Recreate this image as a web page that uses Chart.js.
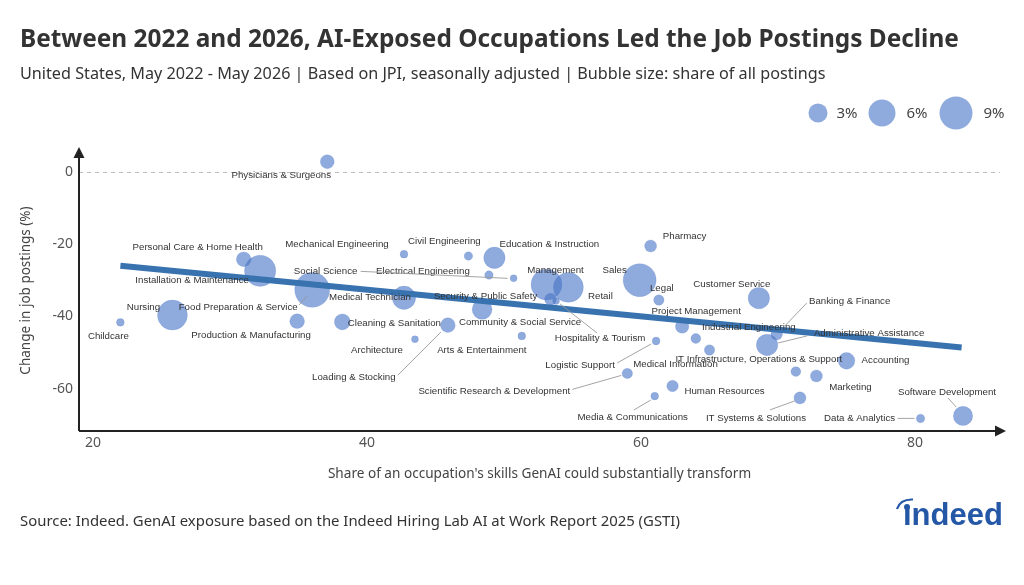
<!DOCTYPE html>
<html>
<head>
<meta charset="utf-8">
<title>AI-Exposed Occupations and Job Postings</title>
<script src="https://cdn.jsdelivr.net/npm/chart.js@4.4.1/dist/chart.umd.min.js"></script>
<style>
  html, body { margin: 0; padding: 0; background: #fff; }
  canvas { display: block; }
</style>
</head>
<body>
<canvas id="aiChart" width="1024" height="585"></canvas>
<script>
// occupations and their values
const occupations = [
  "Physicians & Surgeons", "Personal Care & Home Health", "Installation & Maintenance",
  "Food Preparation & Service", "Nursing", "Childcare", "Production & Manufacturing",
  "Cleaning & Sanitation", "Medical Technician", "Mechanical Engineering", "Architecture",
  "Loading & Stocking", "Civil Engineering", "Education & Instruction", "Electrical Engineering",
  "Social Science", "Community & Social Service", "Arts & Entertainment", "Management",
  "Retail", "Security & Public Safety", "Hospitality & Tourism", "Sales", "Pharmacy", "Legal",
  "Logistic Support", "Scientific Research & Development", "Project Management",
  "Industrial Engineering", "Medical Information", "Customer Service", "Banking & Finance",
  "Administrative Assistance", "Accounting", "IT Infrastructure, Operations & Support",
  "Marketing", "Human Resources", "Media & Communications", "IT Systems & Solutions",
  "Data & Analytics", "Software Development"
];
// share of skills GenAI could transform (%)
const exposure = [
  37.1, 31.0, 32.2, 36.0, 25.8, 22.0, 34.9, 38.2, 42.7, 42.7, 43.5,
  45.9, 47.4, 49.3, 48.9, 50.7, 48.4, 51.3, 53.1, 54.7, 53.4, 53.8,
  59.9, 60.7, 61.3, 61.1, 59.0, 63.0, 64.0, 65.0, 68.6, 69.9, 69.2,
  75.0, 71.3, 72.8, 62.3, 61.0, 71.6, 80.4, 83.5
];
// change in job postings (%)
const postingsChange = [
  3.0, -24.1, -27.3, -32.6, -39.6, -41.6, -41.3, -41.5, -34.8, -22.7, -46.3,
  -42.4, -23.2, -23.7, -28.5, -29.4, -38.0, -45.4, -31.1, -31.9, -35.2, -35.7,
  -29.9, -20.4, -35.4, -46.8, -55.8, -42.8, -46.1, -49.3, -34.9, -44.9, -47.9,
  -52.3, -55.3, -56.5, -59.3, -62.1, -62.6, -68.3, -67.6
];
// share of all postings (%)
const postingShare = [
  1.6, 1.8, 8.1, 10.1, 7.4, 0.5, 1.8, 2.1, 4.5, 0.5, 0.4,
  1.8, 0.6, 3.8, 0.6, 0.4, 3.3, 0.5, 7.9, 7.4, 1.2, 0.4,
  9.0, 1.2, 0.9, 0.5, 0.9, 1.5, 0.8, 0.9, 3.8, 1.1, 3.8,
  2.3, 0.8, 1.2, 1.1, 0.5, 1.2, 0.6, 3.1
];
const trendX = [22.0, 83.4];
const trendY = [-25.9, -48.6];
const xTicks = [20, 40, 60, 80];
const yTicks = [0, -20, -40, -60];
const legendShares = [3, 6, 9];

// label placement: pixel offset from bubble centre, optional leader [x1,y1,x2,y2]
const labelLayout = [
  [-46, 14], [-46, -12], [-68, 10], [-74, 17, [-13, 15, -5, 6]], [-29, -8], [-12, 14],
  [-46, 14], [52, 1], [-34, 0], [-67, -10], [-38, 11], [-94, 52, [-50, 50, -7, 7]],
  [-24, -15], [55, -14], [-66, -4], [-188, -7, [-153, -7, -6, 0]], [38, 13], [-40, 14],
  [9, -14], [32, 9], [-65, -3], [44, 37, [41, 32, 4, 3]], [-25, -10], [34, -10], [3, -12],
  [-76, 24, [-39, 22, -5, 3]], [-133, 18, [-55, 16, -6, 2]], [14, -15], [53, -11],
  [-34, 14], [-27, -14], [73, -33, [30, -31, 8, -8]], [102, -12, [40, -9, 11, -2]],
  [39, 0], [-37, -12], [34, 11], [52, 5], [-22, 21, [-21, 14, -4, 4]],
  [-44, 20, [-30, 12, -5, 3]], [-61, 0, [-23, 0, -6, 0]], [-16, -24, [-15, -18, -7, -9]]
];

const bubbleFill = 'rgba(68, 114, 196, 0.6)';
const radiusFor = share => 5.5 * Math.sqrt(share);

const bubbleData = occupations.map((name, i) => ({
  x: exposure[i], y: postingsChange[i], r: radiusFor(postingShare[i])
}));
const trendData = trendX.map((x, i) => ({ x: x, y: trendY[i] }));

function arrow(ctx, x1, y1, x2, y2) {
  const a = Math.atan2(y2 - y1, x2 - x1);
  ctx.beginPath();
  ctx.moveTo(x1, y1);
  ctx.lineTo(x2 - 8 * Math.cos(a), y2 - 8 * Math.sin(a));
  ctx.stroke();
  ctx.beginPath();
  ctx.moveTo(x2, y2);
  ctx.lineTo(x2 - 11 * Math.cos(a) + 5.5 * Math.sin(a), y2 - 11 * Math.sin(a) - 5.5 * Math.cos(a));
  ctx.lineTo(x2 - 11 * Math.cos(a) - 5.5 * Math.sin(a), y2 - 11 * Math.sin(a) + 5.5 * Math.cos(a));
  ctx.closePath();
  ctx.fill();
}

const decorations = {
  id: 'decorations',
  beforeDatasetsDraw(chart) {
    const { ctx, chartArea, scales } = chart;
    const y0 = scales.y.getPixelForValue(0);
    ctx.save();
    ctx.strokeStyle = '#bdbdbd';
    ctx.lineWidth = 1;
    ctx.setLineDash([4, 4]);
    ctx.beginPath();
    ctx.moveTo(chartArea.left, y0);
    ctx.lineTo(chartArea.right, y0);
    ctx.stroke();
    ctx.restore();
  },
  afterDatasetsDraw(chart) {
    const { ctx } = chart;
    const meta = chart.getDatasetMeta(1);
    ctx.save();
    ctx.font = '9.7px "Liberation Sans", Arial, sans-serif';
    ctx.fillStyle = '#333';
    ctx.textAlign = 'center';
    ctx.textBaseline = 'middle';
    ctx.strokeStyle = '#9a9a9a';
    ctx.lineWidth = 0.9;
    meta.data.forEach((pt, i) => {
      const lay = labelLayout[i];
      if (lay[2]) {
        const l = lay[2];
        ctx.beginPath();
        ctx.moveTo(pt.x + l[0], pt.y + l[1]);
        ctx.lineTo(pt.x + l[2], pt.y + l[3]);
        ctx.stroke();
      }
      ctx.fillText(occupations[i], pt.x + lay[0], pt.y + lay[1]);
    });
    ctx.restore();
  },
  afterDraw(chart) {
    const { ctx, chartArea } = chart;
    ctx.save();
    // axes with arrows
    ctx.strokeStyle = '#222';
    ctx.fillStyle = '#222';
    ctx.lineWidth = 2;
    arrow(ctx, chartArea.left, chartArea.bottom, chartArea.left, chartArea.top - 3);
    arrow(ctx, chartArea.left, chartArea.bottom, chartArea.right + 6, chartArea.bottom);

    // title block
    ctx.textAlign = 'left';
    ctx.textBaseline = 'alphabetic';
    ctx.fillStyle = '#333';
    ctx.font = 'bold 24.4px "Noto Sans", sans-serif';
    ctx.fillText('Between 2022 and 2026, AI-Exposed Occupations Led the Job Postings Decline', 20, 47);
    ctx.font = '16.2px "Noto Sans", sans-serif';
    ctx.fillText('United States, May 2022 - May 2026 | Based on JPI, seasonally adjusted | Bubble size: share of all postings', 20, 79);
    ctx.font = '14.9px "Noto Sans", sans-serif';
    ctx.fillText('Source: Indeed. GenAI exposure based on the Indeed Hiring Lab AI at Work Report 2025 (GSTI)', 20, 526);

    // bubble size legend
    const legendX = [818, 882, 956];
    const legendTextX = [847, 917, 994];
    legendShares.forEach((s, i) => {
      ctx.beginPath();
      ctx.fillStyle = bubbleFill;
      ctx.arc(legendX[i], 113, radiusFor(s), 0, Math.PI * 2);
      ctx.fill();
      ctx.fillStyle = '#444';
      ctx.font = '15px "Noto Sans", sans-serif';
      ctx.textAlign = 'center';
      ctx.textBaseline = 'middle';
      ctx.fillText(s + '%', legendTextX[i], 114);
    });

    // indeed wordmark
    ctx.fillStyle = '#2557a7';
    ctx.strokeStyle = '#2557a7';
    ctx.textAlign = 'left';
    ctx.textBaseline = 'alphabetic';
    ctx.font = 'bold 31px "Liberation Sans", Arial, sans-serif';
    ctx.fillText('\u0131ndeed', 903, 525);
    ctx.beginPath();
    ctx.arc(907, 507, 3, 0, Math.PI * 2);
    ctx.fill();
    ctx.lineWidth = 2.2;
    ctx.beginPath();
    ctx.moveTo(897, 509);
    ctx.quadraticCurveTo(900, 499, 913, 499.5);
    ctx.stroke();
    ctx.restore();
  }
};

new Chart(document.getElementById('aiChart'), {
  type: 'bubble',
  data: {
    datasets: [
      {
        type: 'line',
        data: trendData,
        borderColor: '#3873b0',
        borderWidth: 6,
        pointRadius: 0,
        fill: false,
        order: 0
      },
      {
        data: bubbleData,
        backgroundColor: bubbleFill,
        borderColor: 'rgba(68, 114, 196, 0.35)',
        borderWidth: 0.5,
        order: 1
      }
    ]
  },
  options: {
    responsive: false,
    animation: false,
    devicePixelRatio: 1,
    layout: { padding: { left: 0, top: 150, right: 24, bottom: 94 } },
    plugins: { legend: { display: false }, tooltip: { enabled: false } },
    scales: {
      x: {
        type: 'linear',
        min: 18.98,
        max: 86.2,
        afterFit: s => { s.height = 60; },
        afterBuildTicks: s => { s.ticks = xTicks.map(v => ({ value: v })); },
        grid: { display: false, drawTicks: false },
        border: { display: false },
        ticks: { padding: 4, color: '#555', font: { family: 'Noto Sans', size: 14 } },
        title: {
          display: true,
          text: "Share of an occupation's skills GenAI could substantially transform",
          color: '#444',
          font: { family: 'Noto Sans', size: 13.6 },
          padding: { top: 0, bottom: 9 }
        }
      },
      y: {
        type: 'linear',
        min: -71.8,
        max: 6.25,
        afterFit: s => { s.width = 79; },
        afterBuildTicks: s => { s.ticks = yTicks.map(v => ({ value: v })); },
        grid: { display: false, drawTicks: false },
        border: { display: false },
        ticks: { padding: 6, color: '#555', font: { family: 'Noto Sans', size: 14 } },
        title: {
          display: true,
          text: 'Change in job postings (%)',
          color: '#444',
          font: { family: 'Noto Sans', size: 13.5 },
          padding: { top: 18, bottom: 0 }
        }
      }
    }
  },
  plugins: [decorations]
});
</script>
</body>
</html>
